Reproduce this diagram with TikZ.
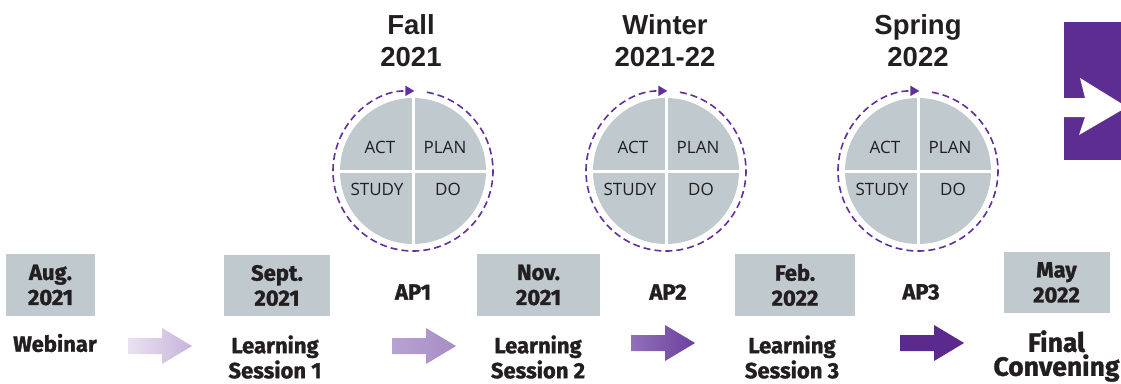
\documentclass[tikz,border=0pt]{standalone}
\usepackage{fontspec}
\setmainfont{Fira Sans}[BoldFeatures={FakeBold=1.3}]
\newfontfamily\headfont{Liberation Sans}
\newfontfamily\pdcafont{Open Sans}
\usetikzlibrary{arrows.meta,calc}
\definecolor{boxgray}{HTML}{BFC9CE}
\definecolor{txt}{HTML}{231F20}
\definecolor{deeppurple}{HTML}{5E2D91}
\definecolor{ringpurple}{HTML}{62309A}
\definecolor{aoneL}{HTML}{EAE2F1}
\definecolor{aoneR}{HTML}{C6B4DB}
\definecolor{atwoL}{HTML}{B7A3D1}
\definecolor{atwoR}{HTML}{A68DC6}
\definecolor{athreeL}{HTML}{9171B8}
\definecolor{athreeR}{HTML}{6B409E}
\definecolor{afour}{HTML}{5C2A8F}
\begin{document}
\begin{tikzpicture}[x=1pt,y=-1pt,
  datebox/.style={fill=boxgray, inner sep=0pt, align=center, text=txt,
    font=\bfseries\fontsize{22}{25}\selectfont},
  lbl/.style={inner sep=0pt, align=center, text=txt,
    font=\bfseries\fontsize{22}{25}\selectfont},
  season/.style={inner sep=0pt, align=center, text=txt,
    font=\headfont\bfseries\fontsize{27.5}{32}\selectfont},
  pdcadisc/.style={circle, fill=boxgray, minimum size=146pt, inner sep=0pt},
  quad/.style={inner sep=0pt, text=txt, font=\pdcafont\fontsize{17}{18}\selectfont},
  ring/.style={draw=ringpurple, line width=1.6pt, dash pattern=on 7pt off 4pt,
    -{Triangle[length=9pt,width=10pt]}},
  cross/.style={draw=white, line width=3pt},
  fatarr/.pic={
    \path[pic actions] (0,-8) -- (34,-8) -- (34,-18) -- (64,0) -- (34,18) -- (34,8) -- (0,8) -- cycle;
    \coordinate (-tail) at (0,0);
    \coordinate (-tip) at (64,0);
  }
]
\useasboundingbox (0,0) rectangle (1121,383);

% ---- season labels
\node[season] (s1) at (411,41) {Fall\\2021};
\node[season] (s2) at (665,41) {Winter\\2021-22};
\node[season] (s3) at (918,41) {Spring\\2022};

% ---- PDCA circles
\foreach \i/\cx in {1/413,2/666,3/918}{
  \node[pdcadisc] (c\i) at (\cx,171) {};
  \draw[cross] (c\i.north) -- (c\i.south);
  \draw[cross] (c\i.west) -- (c\i.east);
  \node[quad] (act\i) at ($(c\i)+(-33,-24)$) {ACT};
  \node[quad] (plan\i) at ($(c\i)+(32,-24)$) {PLAN};
  \node[quad] (study\i) at ($(c\i)+(-36,18)$) {STUDY};
  \node[quad] (do\i) at ($(c\i)+(35,18)$) {DO};
  \draw[ring] (c\i) ++(-80:80) arc[start angle=-80, end angle=271, radius=80];
}

% ---- date boxes
\node[datebox, minimum width=89pt, minimum height=62pt] (d1) at (50.5,285) {Aug.\\2021};
\node[datebox, minimum width=106pt, minimum height=61pt] (d2) at (277,285.5) {Sept.\\2021};
\node[datebox, minimum width=123pt, minimum height=62pt] (d3) at (538.5,285) {Nov.\\2021};
\node[datebox, minimum width=120pt, minimum height=62pt] (d4) at (795,285) {Feb.\\2022};
\node[datebox, minimum width=106pt, minimum height=61pt] (d5) at (1056.5,282.5) {May\\2022};

% ---- AP labels
\node[lbl] (ap1) at (413,292) {AP1};
\node[lbl] (ap2) at (668,292) {AP2};
\node[lbl] (ap3) at (921,292) {AP3};

% ---- event labels
\node[lbl] (e1) at (55,343) {Webinar};
\node[lbl] (e2) at (275,357) {Learning\\Session 1};
\node[lbl] (e3) at (538,357) {Learning\\Session 2};
\node[lbl] (e4) at (792,357) {Learning\\Session 3};
\node[lbl, font=\bfseries\fontsize{26.5}{24}\selectfont] (e5) at (1056.5,356) {Final\\Convening};

% ---- block arrows
\pic[left color=aoneL, right color=aoneR] (ar1) at (128,346) {fatarr};
\pic[left color=atwoL, right color=atwoR] (ar2) at (392,346) {fatarr};
\pic[left color=athreeL, right color=athreeR] (ar3) at (631,343) {fatarr};
\pic[fill=afour] (ar4) at (900,343) {fatarr};

% ---- right-edge purple block with white arrow
\fill[deeppurple] (1064,22) rectangle (1121,160);
\fill[white] (1064,98) -- (1085,98) -- (1080,78) -- (1127,107) -- (1079,135) -- (1085,117) -- (1064,117) -- cycle;
\end{tikzpicture}
\end{document}
